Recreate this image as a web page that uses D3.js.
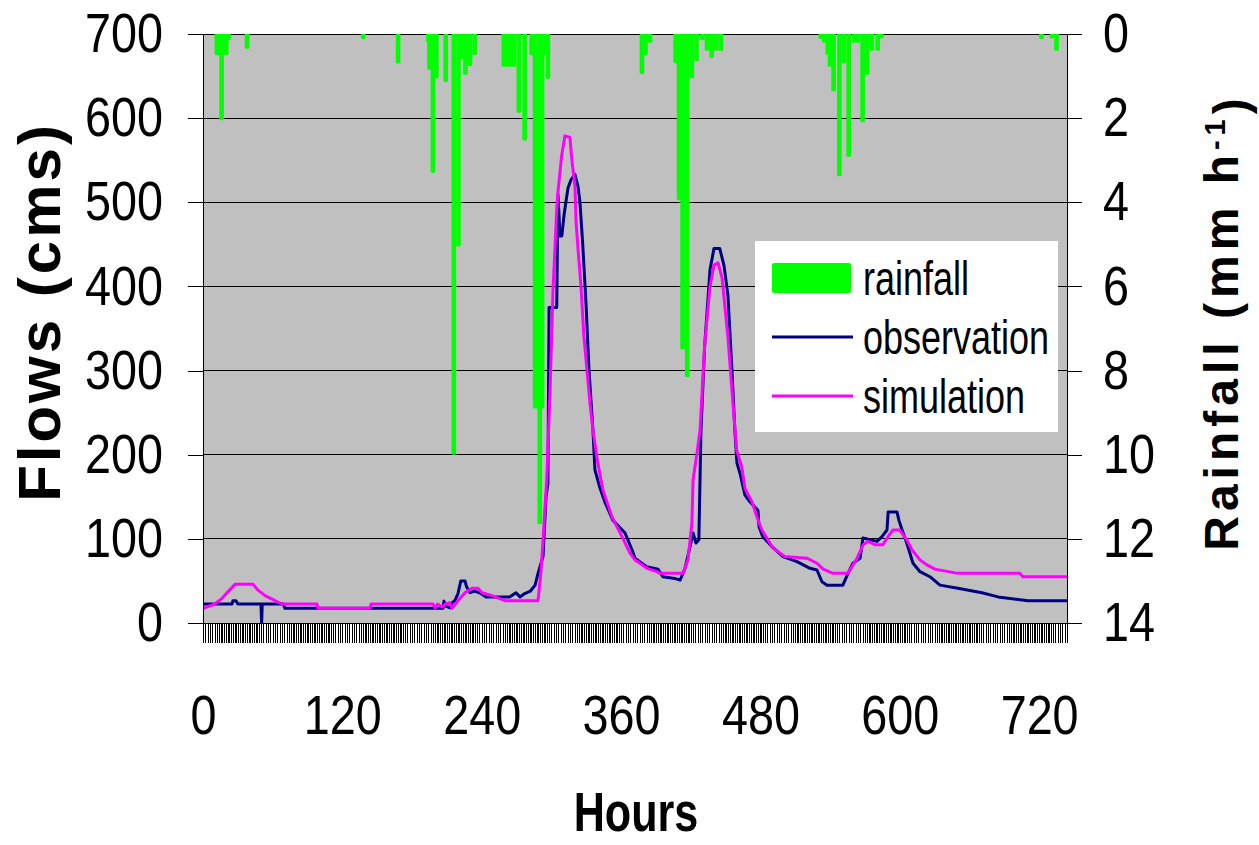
<!DOCTYPE html>
<meta charset="utf-8">
<style>
body { margin: 0; background: #fff; }
text { font-family: "Liberation Sans", Arial, sans-serif; fill: #000; }
.axis path, .axis line { stroke: #000; shape-rendering: crispEdges; }
.grid line { stroke: #000; stroke-width: 1px; shape-rendering: crispEdges; }
.obs { fill: none; stroke: #000080; stroke-width: 3px; stroke-linejoin: round; }
.sim { fill: none; stroke: #ff00ff; stroke-width: 3px; stroke-linejoin: round; }
.rain { fill: #00ff00; }
</style>
<svg id="chart" width="1259" height="845"></svg>
<script src="https://cdn.jsdelivr.net/npm/d3@7"></script>
<script>
// hourly rainfall (mm/h), only the wet hours
var rainHours = [12,14,16,18,20,22, 38, 138, 168,
  194,195,198,201,209,216,220,222,226,230,234,
  259,262,265,268,272,277, 283,286,290,292,294,297,
  378,381,385, 407,410,413,417,421,425, 430,434,438,442,446,
  532,535,538,540,543,548,552,556,561,564,568,572,576,581,584,
  722,731,735];
var rainMm = [0.5,0.5,2.05,0.5,0.5,0.15, 0.35, 0.12, 0.7,
  0.2,0.85,3.3,1.05,1.14,10.0,5.05,0.6,0.97,0.76,0.5,
  0.78,0.78,0.78,0.78,1.87,2.53, 0.5,8.9,11.65,8.9,0.5,1.07,
  0.95,0.5,0.21, 0.69,3.95,7.5,8.15,1.05,0.65, 0.15,0.4,0.57,0.4,0.4,
  0.12,0.21,0.5,0.78,1.36,3.38,0.69,2.92,0.21,0.21,2.1,0.97,0.4,0.4,0.1,
  0.12,0.1,0.4];

// observed flow (cms)
var obsHours = [0,25,25.8,28.4,30,49.9,50.5,51,69,70.6,206.7,207.5,209,212.7,214.4,217,219.6,222,225.6,227,230,234,238.5,243.7,
  264,269.5,273,277,282,286,288.5,292.8,295.4,297,298,304.6,305.7,307.4,309,311,314.3,317,320.3,322.9,324.6,327,329.8,332.4,
  335.8,337.5,341.9,346,353,363.4,369.4,372,382,391.8,396,406.4,410.8,415,419.4,422,424.5,427,428.8,432,436.6,440,445,448.6,
  452,455.5,458,459.8,462.4,466.7,471,475,477.9,478.8,482,490,499.4,511.5,522.7,528.7,533,537.3,551,555.4,559.7,565.8,568.3,
  580.4,584.7,589,590,597.6,599.3,602,606,611.4,617.4,626,634.6,650,670.8,684.6,710.4,744];
var obsFlow = [22.6,22.6,26.5,26.5,22.6,22.6,0,22.6,22.6,17.4,17.4,26,20,18,24,27,35,50,50,43,36,38,35.6,31,
  31,36,31,35,38,45,59,79,150,166,375,375,509,460,460,486,517,527,533,519,500,450,380,300,
  229,182,160,144,122,107,87,77,67,64,55,53,51,64.5,90.7,107,95,99,229,330,420,445,445,425,
  390,300,229,190,178,152,144,138,133.6,114.5,102.6,90.7,78.8,72.9,65,63,49,45,45,59,71,77,101,
  97,102.6,110.5,132,132,122,110.5,95,71,61,55,45,41.4,36,31,26.5,26.5];

// simulated flow (cms)
var simHours = [0,10.3,16.4,21.5,27.6,43,47.4,53.4,62,68,98.2,99,143.8,144.7,198,199.8,202,205.8,209,212.7,214.4,219.6,225.6,
  231.6,236.8,240.2,248.9,260,288.5,291,292.8,296,298.8,301.4,304.6,305.7,308.9,311.7,316,317.5,320.3,321.2,322.9,325.5,328,
  330.7,333.3,335.8,340,344.4,352.2,360.8,367.7,372,376.3,382.3,391,393.5,413.3,417.6,421,422,425.4,428,432,436.6,440,443.5,
  447,452,456.4,459.6,463.9,466.7,472.8,477,481.3,485.6,490.8,501,520,528.7,534,542.5,555.4,558.9,563.2,568.3,572.6,578.7,
  585.5,589.9,594,600,606,610.5,617.4,623.4,630.3,650,703.5,706,744];
var simFlow = [17.4,22.6,29.3,37,46,46,39,32.5,26.5,22.6,22.6,17.4,17.4,22.6,22.6,18,22.6,19,22.6,24,17.4,26.5,36,
  41.4,41.4,36,32.5,26.5,26.5,60,98.6,171,273,396,491,513,556,579,577,552,519,478,445,400,340,
  300,260,229,190,158,126,102.6,83,75,71,65,61,59,59,75,119,170,202,229,330,400,425,428,
  410,340,260,205,186,160,144,126,110.5,101,89,79,77,71,64,59,59,67,77,92.7,97,93,
  93,102.6,110.5,110.5,99,87,75,69,64,59,59,55,55];

var flowTicks = [0,100,200,300,400,500,600,700];
var rainTicks = [0,2,4,6,8,10,12,14];
var hourTicks = [0,120,240,360,480,600,720];

var svg = d3.select("#chart"),
    margin = {top: 34, right: 192, bottom: 222, left: 203},
    width = 1259 - margin.left - margin.right,
    height = 845 - margin.top - margin.bottom;

var x = d3.scaleLinear().domain([0, 744]).range([0, width]);
var yFlow = d3.scaleLinear().domain([0, 700]).range([height, 0]);
var yRain = d3.scaleLinear().domain([0, 14]).range([0, height]);

var g = svg.append("g")
    .attr("transform", "translate(" + margin.left + "," + margin.top + ")");

g.append("defs").append("clipPath").attr("id", "clip")
  .append("rect").attr("width", width).attr("height", height);

g.append("rect")
    .attr("width", width)
    .attr("height", height)
    .attr("fill", "#c0c0c0");

g.append("g")
    .attr("class", "grid")
  .selectAll("line")
    .data(flowTicks.slice(1))
  .enter().append("line")
    .attr("x1", 0)
    .attr("x2", width)
    .attr("y1", function(d) { return yFlow(d); })
    .attr("y2", function(d) { return yFlow(d); });

var plot = g.append("g").attr("clip-path", "url(#clip)");

var barW = x(4) - x(0);
plot.selectAll(".rain")
    .data(rainHours.map(function(h, i) { return {h: h, v: rainMm[i]}; }))
  .enter().append("rect")
    .attr("class", "rain")
    .attr("x", function(d) { return x(d.h) - barW / 2; })
    .attr("y", -2)
    .attr("width", barW)
    .attr("height", function(d) { return yRain(d.v) + 2; })
    .attr("rx", 1.5);

var line = d3.line()
    .x(function(d) { return x(d[0]); })
    .y(function(d) { return yFlow(d[1]); });

plot.append("path")
    .datum(obsHours.map(function(h, i) { return [h, obsFlow[i]]; }))
    .attr("class", "obs")
    .attr("d", line);

plot.append("path")
    .datum(simHours.map(function(h, i) { return [h, simFlow[i]]; }))
    .attr("class", "sim")
    .attr("d", line);

// condensed look of the labels
function squeeze(sel, k) {
  sel.selectAll("text").each(function() {
    var t = d3.select(this);
    var x0 = +t.attr("x") || 0;
    t.attr("x", x0 / k).attr("transform", "scale(" + k + ",1)");
  });
}

var left = g.append("g")
    .attr("class", "axis")
    .call(d3.axisLeft(yFlow).tickValues(flowTicks).tickSize(15).tickSizeOuter(0).tickPadding(25));
left.selectAll("text").style("font-size", "55px");
squeeze(left, 0.85);
left.select(".domain").attr("stroke-width", 1.5);

var right = g.append("g")
    .attr("class", "axis")
    .attr("transform", "translate(" + width + ",0)")
    .call(d3.axisRight(yRain).tickValues(rainTicks).tickSize(15).tickSizeOuter(0).tickPadding(21));
right.selectAll("text").style("font-size", "55px");
squeeze(right, 0.85);

g.append("g")
    .attr("class", "axis")
    .attr("transform", "translate(0," + height + ")")
    .call(d3.axisBottom(x).tickValues(d3.range(0, 745, 2)).tickSize(20).tickSizeOuter(0).tickFormat(""))
  .selectAll("line").style("stroke-width", "1.2px");

var bottom = g.append("g")
    .attr("class", "axis")
    .attr("transform", "translate(0," + height + ")")
    .call(d3.axisBottom(x).tickValues(hourTicks).tickSize(0).tickPadding(72));
bottom.select(".domain").remove();
bottom.selectAll("text").style("font-size", "55px");
squeeze(bottom, 0.85);

// titles
svg.append("text")
    .attr("transform", "translate(60,312) rotate(-90)")
    .attr("text-anchor", "middle")
    .style("font-size", "60px")
    .style("font-weight", "bold")
    .style("letter-spacing", "3px")
    .text("Flows (cms)");

var rt = svg.append("text")
    .attr("transform", "translate(1238,322) rotate(-90)")
    .attr("text-anchor", "middle")
    .style("font-size", "48px")
    .style("font-weight", "bold")
    .style("letter-spacing", "5px");
rt.append("tspan").text("Rainfall (mm h");
rt.append("tspan").attr("dy", "-0.45em").style("font-size", "29px").text("-1");
rt.append("tspan").attr("dy", "0.45em").text(")");

svg.append("text")
    .attr("transform", "translate(636,831) scale(0.77,1)")
    .attr("text-anchor", "middle")
    .style("font-size", "56px")
    .style("font-weight", "bold")
    .text("Hours");

// legend
var legend = svg.append("g");
legend.append("rect")
    .attr("x", 755).attr("y", 241)
    .attr("width", 303).attr("height", 191)
    .attr("fill", "#fff");

var items = [
  {name: "rainfall", type: "bar", color: "#00ff00"},
  {name: "observation", type: "line", color: "#000080"},
  {name: "simulation", type: "line", color: "#ff00ff"}
];
items.forEach(function(d, i) {
  var cy = 278 + i * 59;
  if (d.type === "bar") {
    legend.append("rect")
        .attr("x", 772).attr("y", cy - 15)
        .attr("width", 79).attr("height", 30)
        .attr("rx", 2)
        .attr("fill", d.color);
  } else {
    legend.append("line")
        .attr("x1", 772).attr("x2", 853)
        .attr("y1", cy).attr("y2", cy)
        .attr("stroke", d.color)
        .attr("stroke-width", 3);
  }
  legend.append("text")
      .attr("transform", "translate(863," + (cy + 12) + ") scale(0.75,1)")
      .attr("dy", "0.1em")
      .style("font-size", "48px")
      .text(d.name);
});
</script>
